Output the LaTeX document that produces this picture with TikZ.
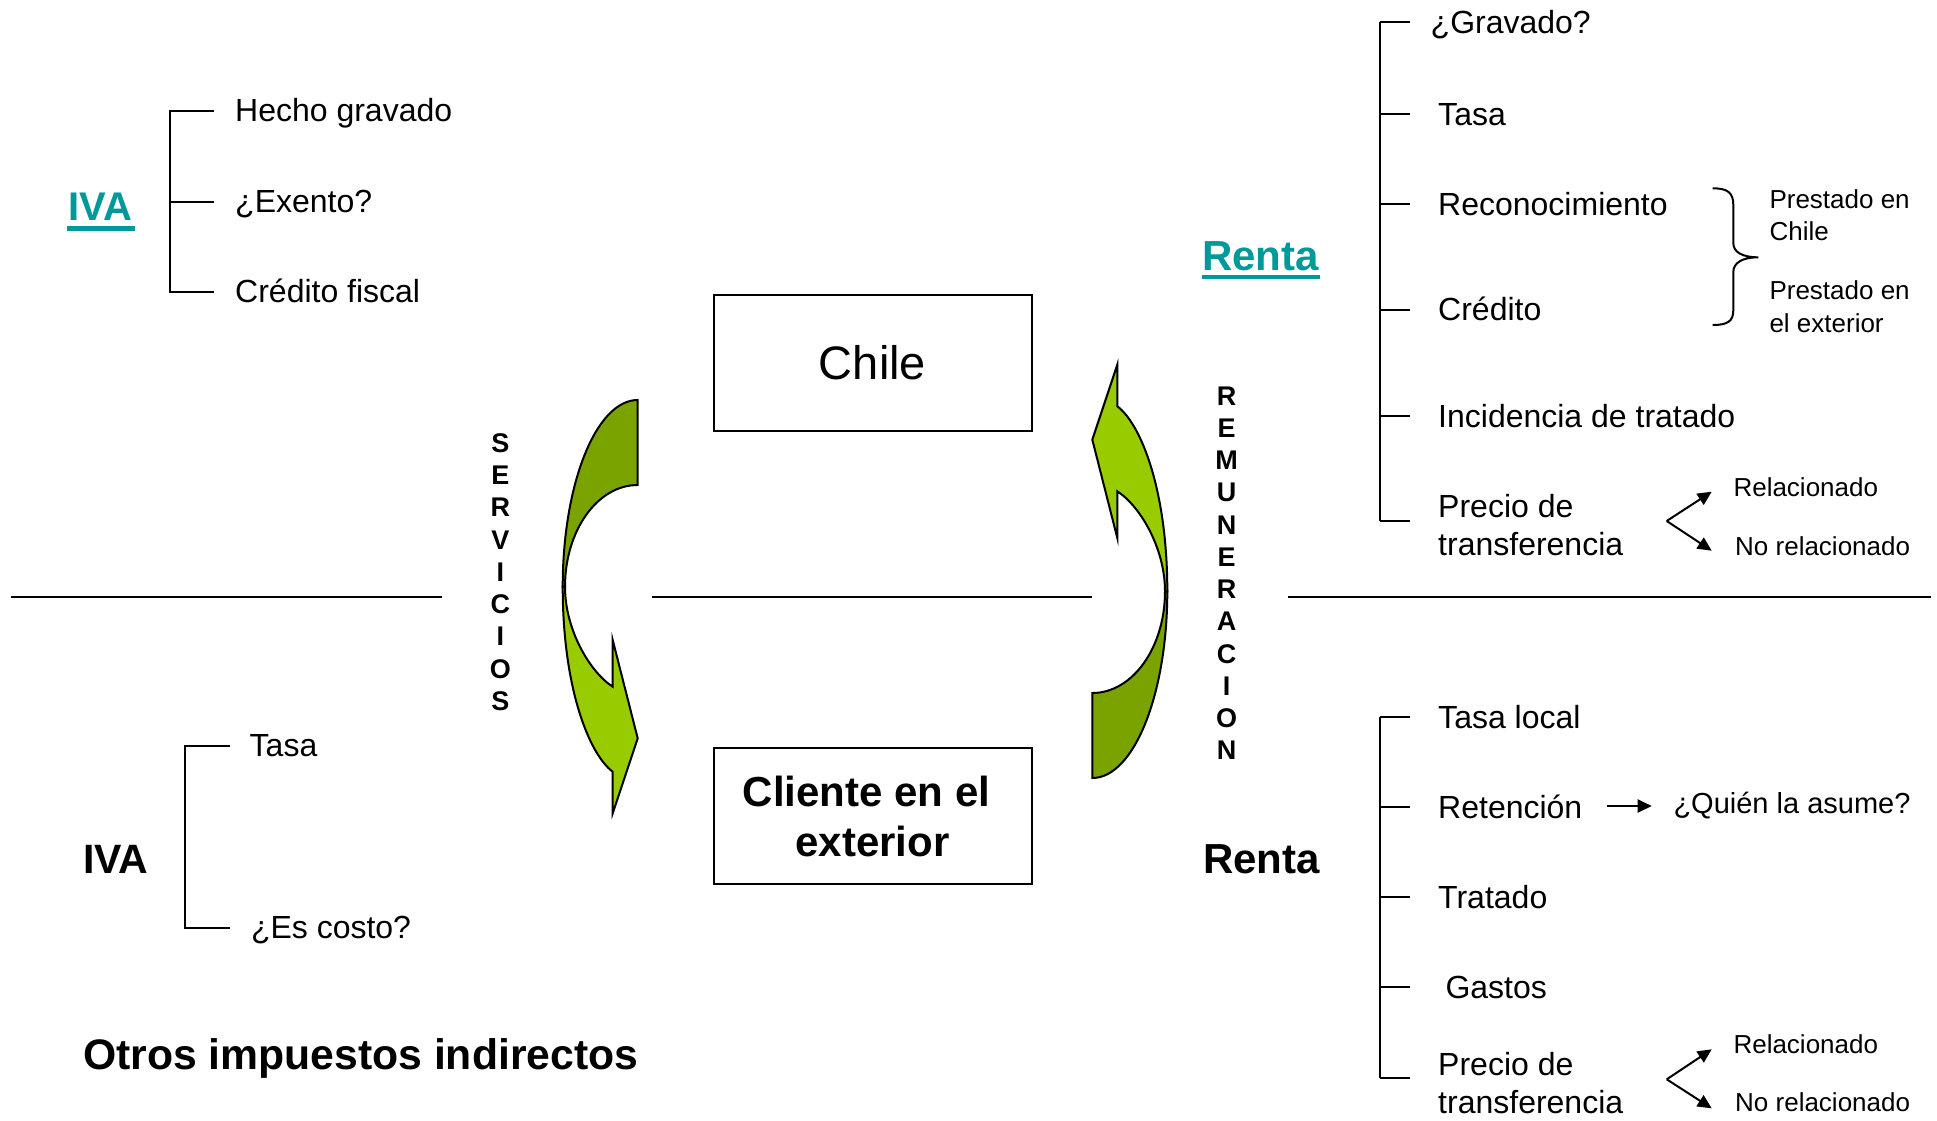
\documentclass[tikz,border=0pt]{standalone}
\usepackage{fontspec}
\setmainfont{Liberation Sans}
\usetikzlibrary{arrows.meta}
\definecolor{tealhead}{RGB}{0,153,153}
\definecolor{gdark}{RGB}{122,163,0}
\definecolor{glight}{RGB}{153,204,0}
\newcommand\greenarrowpieces{%
  \filldraw[piece, fill=gdark] (637.7,400) -- (637.7,485)
    .. controls (597.5,485) and (565,530.5) .. (565,586.7) -- (562.7,586.7)
    .. controls (562.7,483.6) and (596.3,400) .. (637.7,400) -- cycle;
  \filldraw[piece, fill=glight] (562.7,586.7)
    .. controls (562.7,690) and (590,755) .. (612.7,771.7) -- (612.7,813.3)
    -- (637.7,738.3) -- (612.7,640) -- (612.7,686.7)
    .. controls (590,672) and (565,630) .. (565,586.7) -- cycle;
}
\begin{document}
\begin{tikzpicture}[x=1pt,y=-1pt,
  txt/.style={inner sep=0pt, anchor=base west, font=\fontsize{32}{38}\selectfont},
  txtml/.style={inner sep=0pt, anchor=west, align=left, font=\fontsize{32}{38}\selectfont},
  small/.style={inner sep=0pt, anchor=base west, font=\fontsize{26}{32.7}\selectfont},
  smallml/.style={inner sep=0pt, anchor=west, align=left, font=\fontsize{26}{32.7}\selectfont},
  head/.style={inner sep=0pt, anchor=base west, font=\fontsize{42}{50}\selectfont\bfseries},
  brk/.style={line width=2pt},
  spine/.style={line width=2.5pt},
  divider/.style={line width=2.5pt},
  uline/.style={line width=4.5pt, tealhead},
  pbox/.style={draw, line width=2pt, minimum width=318pt, minimum height=136pt, inner sep=0pt},
  piece/.style={draw=black, line width=2pt, line join=miter},
  tipline/.style={line width=2pt, -{Triangle[length=14pt,width=13pt]}},
  vert/.style={inner sep=0pt, align=center, font=\fontsize{27}{32.25}\selectfont\bfseries},
]
\useasboundingbox (0,0) rectangle (1937,1120);

% dividers
\coordinate (d1a) at (11,597);   \coordinate (d1b) at (442,597);
\coordinate (d2a) at (652,597);  \coordinate (d2b) at (1091.7,597);
\coordinate (d3a) at (1288,597); \coordinate (d3b) at (1931,597);
\draw[divider] (d1a) -- (d1b);
\draw[divider] (d2a) -- (d2b);
\draw[divider] (d3a) -- (d3b);

% curved arrows
\greenarrowpieces
\begin{scope}[rotate around={180:(865,589)}]
\greenarrowpieces
\end{scope}

% boxes
\node[pbox, font=\fontsize{47}{56}\selectfont] (chile) at (872.5,362.5) {Chile};
\node[pbox, align=center, font=\fontsize{42}{50}\selectfont\bfseries] (cliente) at (872.5,816.2) {Cliente en el\hspace*{12pt}\\exterior};

% vertical words
\node[vert] (serv) at (500.3,572) {S\\E\\R\\V\\I\\C\\I\\O\\S};
\node[vert] (remu) at (1226.7,573.3) {R\\E\\M\\U\\N\\E\\R\\A\\C\\I\\O\\N};

% ---- top left: IVA
\node[head, text=tealhead, font=\fontsize{40}{48}\selectfont\bfseries] (ivaT) at (68.3,220.7) {IVA};
\draw[uline] ([xshift=-1.5pt,yshift=-8pt]ivaT.base west) -- ([xshift=2.5pt,yshift=-8pt]ivaT.base east);
\coordinate (la1) at (170,110.7); \coordinate (la2) at (170,201.7); \coordinate (la3) at (170,292.3);
\draw[brk] (214,110.7) -- (la1) -- (la3) -- (214,292.3);
\draw[brk] (la2) -- (214,201.7);
\node[txt] (hg) at (235,121.7) {Hecho gravado};
\node[txt] (ex) at (235,212.2) {¿Exento?};
\node[txt] (cf) at (235,302.7) {Crédito fiscal};

% ---- top right: Renta
\node[head, text=tealhead] (rentaT) at (1202,270) {Renta};
\draw[uline] ([yshift=-7pt]rentaT.base west) -- ([xshift=1pt,yshift=-7pt]rentaT.base east);
\coordinate (ra1) at (1380,22.2); \coordinate (ra2) at (1380,113.6); \coordinate (ra3) at (1380,203.8);
\coordinate (ra4) at (1380,310);  \coordinate (ra5) at (1380,416.3); \coordinate (ra6) at (1380,521.3);
\draw[spine] (ra1) -- (ra6);
\foreach \c in {ra1,ra2,ra3,ra4,ra5,ra6} \draw[brk] (\c) -- ++(29.5,0);
\node[txt] (grav) at (1430.5,33.7) {¿Gravado?};
\node[txt] (tasa1) at (1438,125) {Tasa};
\node[txt] (recon) at (1438,215.3) {Reconocimiento};
\node[txt] (cred) at (1438,320) {Crédito};
\node[txt] (incid) at (1438,427.8) {Incidencia de tratado};
\node[txtml] (pt1) at (1438,525.5) {Precio de\\transferencia};

% brace
\draw[line width=2pt] (1712.7,188.3) .. controls (1728,188.3) and (1733.3,193) .. (1733.3,205)
  -- (1733.3,243) .. controls (1733.3,252) and (1742,257.3) .. (1758.3,257.3)
  .. controls (1742,257.3) and (1733.3,263) .. (1733.3,272)
  -- (1733.3,310) .. controls (1733.3,321) and (1728,325) .. (1712.7,325);
\node[smallml] (pchile) at (1769.3,215.3) {Prestado en\\Chile};
\node[smallml] (pext) at (1769.3,306.5) {Prestado en\\el exterior};

% relacionado (top)
\coordinate (v1) at (1666.7,521);
\coordinate (v1a) at (1711.7,491.7); \coordinate (v1b) at (1711.7,550.7);
\draw[tipline] (v1) -- (v1a);
\draw[tipline] (v1) -- (v1b);
\node[small] (rel1) at (1733.3,496.7) {Relacionado};
\node[small] (norel1) at (1735,555) {No relacionado};

% ---- bottom left: IVA
\node[head, font=\fontsize{41}{49}\selectfont\bfseries] (ivaB) at (82.8,873) {IVA};
\coordinate (lb1) at (185.3,746); \coordinate (lb2) at (185.3,927.7);
\draw[brk] (229.8,746) -- (lb1) -- (lb2) -- (229.8,927.7);
\node[txt] (tasa2) at (249.5,756.5) {Tasa};
\node[txt] (costo) at (250.8,938.5) {¿Es costo?};
\node[head, font=\fontsize{42.7}{50}\selectfont\bfseries] (otros) at (82.8,1069) {Otros impuestos indirectos};

% ---- bottom right: Renta
\node[head] (rentaB) at (1203,873.5) {Renta};
\coordinate (rb1) at (1380,716.5); \coordinate (rb2) at (1380,806.7); \coordinate (rb3) at (1380,896.8);
\coordinate (rb4) at (1380,987);   \coordinate (rb5) at (1380,1078.4);
\draw[spine] (rb1) -- (rb5);
\foreach \c in {rb1,rb2,rb3,rb4,rb5} \draw[brk] (\c) -- ++(29.5,0);
\node[txt] (tasal) at (1438,728) {Tasa local};
\node[txt] (ret) at (1438,818) {Retención};
\node[txt] (trat) at (1438,908.3) {Tratado};
\node[txt] (gast) at (1445.3,998.5) {Gastos};
\node[txtml] (pt2) at (1438,1082.7) {Precio de\\transferencia};

\coordinate (qa) at (1606.7,806); \coordinate (qb) at (1651.7,806);
\draw[tipline] (qa) -- (qb);
\node[inner sep=0pt, anchor=base west, font=\fontsize{29}{35}\selectfont] (quien) at (1673.3,813.3) {¿Quién la asume?};

% relacionado (bottom)
\coordinate (v2) at (1666.7,1079.3);
\coordinate (v2a) at (1711.7,1049.3); \coordinate (v2b) at (1711.7,1108.3);
\draw[tipline] (v2) -- (v2a);
\draw[tipline] (v2) -- (v2b);
\node[small] (rel2) at (1733.3,1053.3) {Relacionado};
\node[small] (norel2) at (1735,1111.7) {No relacionado};
\end{tikzpicture}
\end{document}
